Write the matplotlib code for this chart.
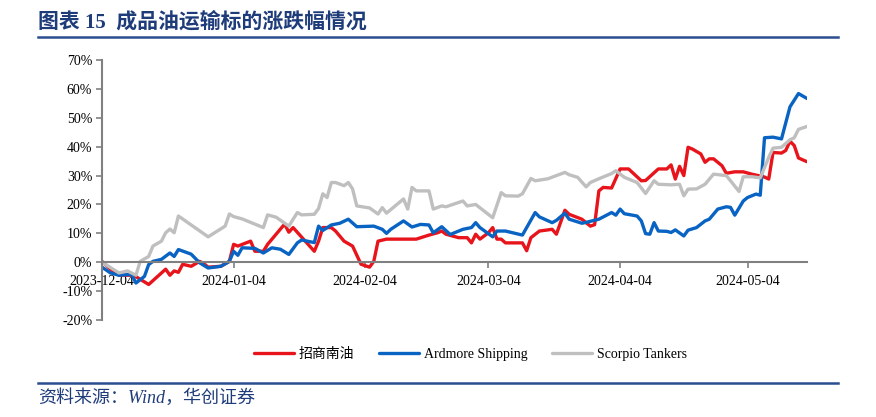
import matplotlib
matplotlib.use("Agg")
import matplotlib.pyplot as plt
import matplotlib.dates as mdates
from matplotlib.lines import Line2D
from matplotlib.ticker import PercentFormatter
import pandas as pd

plt.rcParams['font.family'] = ['Liberation Serif', 'Noto Sans CJK SC']
plt.rcParams['axes.unicode_minus'] = False

# 招商南油
red_dates = ['2023-12-04', '2023-12-06', '2023-12-08', '2023-12-11', '2023-12-12', '2023-12-15',
             '2023-12-19', '2023-12-20', '2023-12-21', '2023-12-22', '2023-12-23', '2023-12-25',
             '2023-12-27', '2023-12-28', '2023-12-29', '2024-01-01', '2024-01-03', '2024-01-04',
             '2024-01-05', '2024-01-08', '2024-01-09', '2024-01-11', '2024-01-12', '2024-01-16',
             '2024-01-17', '2024-01-18', '2024-01-23', '2024-01-24', '2024-01-25', '2024-01-27',
             '2024-01-28', '2024-01-30', '2024-02-01', '2024-02-03', '2024-02-05', '2024-02-06',
             '2024-02-07', '2024-02-09', '2024-02-16', '2024-02-19', '2024-02-21', '2024-02-22',
             '2024-02-23', '2024-02-26', '2024-02-28', '2024-02-29', '2024-03-01', '2024-03-02',
             '2024-03-04', '2024-03-05', '2024-03-06', '2024-03-07', '2024-03-08', '2024-03-12',
             '2024-03-13', '2024-03-14', '2024-03-16', '2024-03-19', '2024-03-20', '2024-03-22',
             '2024-03-23', '2024-03-26', '2024-03-28', '2024-03-29', '2024-03-30', '2024-03-31',
             '2024-04-02', '2024-04-04', '2024-04-06', '2024-04-09', '2024-04-10', '2024-04-13',
             '2024-04-15', '2024-04-16', '2024-04-17', '2024-04-18', '2024-04-19', '2024-04-20',
             '2024-04-21', '2024-04-23', '2024-04-24', '2024-04-25', '2024-04-26', '2024-04-28',
             '2024-04-29', '2024-05-01', '2024-05-03', '2024-05-05', '2024-05-08', '2024-05-09',
             '2024-05-10', '2024-05-12', '2024-05-13', '2024-05-14', '2024-05-15', '2024-05-16',
             '2024-05-18']
red_vals = [0.3, -2.4, -4.5, -4.5, -5.0, -7.7,
            -2.4, -4.5, -3.0, -3.5, -0.7, -1.4,
            0.3, -0.5, -1.7, -1.4, 0.3, 6.2,
            5.6, 7.3, 3.8, 3.8, 6.2, 13.2,
            10.4, 12.0, 3.8, 7.3, 12.0, 12.0,
            10.8, 7.3, 5.6, -0.7, -1.7, 0.3,
            7.3, 8.0, 8.0, 9.4, 10.2, 10.8,
            9.7, 8.5, 8.5, 6.7, 9.7, 8.0,
            10.2, 12.0, 8.0, 8.0, 6.7, 6.7,
            4.0, 8.5, 10.8, 11.4, 9.7, 18.0,
            16.6, 14.9, 12.5, 13.0, 24.7, 25.9,
            25.7, 32.3, 32.3, 28.2, 28.3, 32.3,
            32.3, 33.7, 28.8, 33.2, 30.0, 39.8,
            39.2, 37.5, 34.6, 35.8, 35.8, 33.4,
            30.8, 31.3, 31.3, 30.5, 29.5, 28.8,
            38.0, 37.8, 38.7, 41.9, 40.4, 36.1,
            34.8]

# Ardmore Shipping
blue_dates = ['2023-12-04', '2023-12-06', '2023-12-08', '2023-12-11', '2023-12-12', '2023-12-14',
              '2023-12-15', '2023-12-16', '2023-12-18', '2023-12-20', '2023-12-21', '2023-12-22',
              '2023-12-25', '2023-12-27', '2023-12-29', '2024-01-01', '2024-01-03', '2024-01-04',
              '2024-01-05', '2024-01-06', '2024-01-09', '2024-01-11', '2024-01-13', '2024-01-15',
              '2024-01-17', '2024-01-19', '2024-01-20', '2024-01-23', '2024-01-24', '2024-01-25',
              '2024-01-27', '2024-01-29', '2024-01-31', '2024-02-02', '2024-02-06', '2024-02-08',
              '2024-02-09', '2024-02-10', '2024-02-13', '2024-02-15', '2024-02-17', '2024-02-19',
              '2024-02-20', '2024-02-22', '2024-02-24', '2024-02-27', '2024-02-29', '2024-03-01',
              '2024-03-02', '2024-03-05', '2024-03-06', '2024-03-08', '2024-03-12', '2024-03-15',
              '2024-03-16', '2024-03-19', '2024-03-20', '2024-03-22', '2024-03-23', '2024-03-26',
              '2024-03-27', '2024-03-30', '2024-04-02', '2024-04-03', '2024-04-04', '2024-04-05',
              '2024-04-08', '2024-04-09', '2024-04-10', '2024-04-11', '2024-04-12', '2024-04-13',
              '2024-04-15', '2024-04-16', '2024-04-17', '2024-04-19', '2024-04-20', '2024-04-22',
              '2024-04-24', '2024-04-25', '2024-04-27', '2024-04-29', '2024-04-30', '2024-05-01',
              '2024-05-03', '2024-05-04', '2024-05-06', '2024-05-07', '2024-05-08', '2024-05-10',
              '2024-05-12', '2024-05-14', '2024-05-16', '2024-05-18']
blue_vals = [-1.7, -3.7, -4.5, -4.2, -7.2, -4.9,
             -0.8, 0.3, 1.0, 3.2, 2.0, 4.4,
             2.8, -0.2, -2.0, -1.4, 0.3, 3.8,
             2.4, 5.0, 4.8, 3.2, 5.0, 4.5,
             2.7, 6.7, 7.7, 6.8, 12.5, 11.0,
             12.9, 13.5, 14.9, 12.3, 12.5, 11.4,
             10.0, 11.4, 14.3, 12.2, 13.1, 12.9,
             10.2, 12.3, 9.6, 11.4, 12.0, 13.7,
             12.0, 8.8, 10.8, 10.8, 9.4, 17.2,
             15.7, 13.7, 14.5, 17.0, 14.9, 13.5,
             13.8, 14.9, 17.2, 16.3, 18.4, 16.8,
             16.0, 14.3, 9.9, 9.7, 13.7, 10.8,
             10.7, 10.3, 11.2, 9.1, 11.1, 12.0,
             14.3, 14.9, 18.4, 19.2, 19.0, 16.3,
             21.2, 22.4, 23.6, 23.2, 43.1, 43.3,
             42.7, 53.8, 58.4, 56.7]

# Scorpio Tankers
grey_dates = ['2023-12-04', '2023-12-08', '2023-12-10', '2023-12-12', '2023-12-13', '2023-12-15',
              '2023-12-16', '2023-12-18', '2023-12-19', '2023-12-20', '2023-12-21', '2023-12-22',
              '2023-12-29', '2024-01-02', '2024-01-03', '2024-01-04', '2024-01-06', '2024-01-11',
              '2024-01-12', '2024-01-14', '2024-01-17', '2024-01-19', '2024-01-20', '2024-01-23',
              '2024-01-24', '2024-01-25', '2024-01-26', '2024-01-27', '2024-01-28', '2024-01-30',
              '2024-01-31', '2024-02-01', '2024-02-02', '2024-02-05', '2024-02-07', '2024-02-08',
              '2024-02-09', '2024-02-13', '2024-02-14', '2024-02-15', '2024-02-16', '2024-02-19',
              '2024-02-20', '2024-02-22', '2024-02-23', '2024-02-27', '2024-02-28', '2024-03-01',
              '2024-03-05', '2024-03-07', '2024-03-08', '2024-03-11', '2024-03-12', '2024-03-14',
              '2024-03-15', '2024-03-18', '2024-03-20', '2024-03-22', '2024-03-23', '2024-03-25',
              '2024-03-27', '2024-03-28', '2024-03-30', '2024-04-02', '2024-04-03', '2024-04-05',
              '2024-04-08', '2024-04-10', '2024-04-12', '2024-04-13', '2024-04-16', '2024-04-18',
              '2024-04-19', '2024-04-20', '2024-04-22', '2024-04-24', '2024-04-26', '2024-04-29',
              '2024-04-30', '2024-05-02', '2024-05-03', '2024-05-05', '2024-05-07', '2024-05-09',
              '2024-05-10', '2024-05-12', '2024-05-14', '2024-05-15', '2024-05-16', '2024-05-18']
grey_vals = [0.0, -3.7, -3.0, -4.5, 0.3, 2.0,
             5.6, 7.3, 10.2, 11.5, 10.2, 16.0,
             8.8, 12.5, 16.7, 15.8, 15.0, 12.0,
             16.4, 15.6, 12.5, 17.2, 16.4, 16.6,
             18.6, 23.7, 22.4, 27.6, 27.6, 26.5,
             27.6, 25.4, 19.5, 18.8, 16.7, 18.9,
             17.0, 21.9, 18.4, 25.9, 24.7, 24.7,
             18.4, 19.5, 19.2, 21.2, 19.5, 20.0,
             15.4, 24.1, 23.0, 22.9, 23.7, 29.0,
             28.2, 28.9, 30.0, 31.1, 30.3, 29.4,
             26.1, 27.6, 28.9, 30.7, 31.7, 29.4,
             27.6, 23.8, 28.2, 27.0, 26.8, 27.0,
             23.0, 25.3, 25.4, 27.0, 30.5, 30.0,
             28.2, 24.5, 29.6, 29.6, 29.2, 36.3,
             39.5, 39.8, 42.4, 43.1, 46.0, 47.0]

tick_dates = ['2023-12-04', '2024-01-04', '2024-02-04', '2024-03-04', '2024-04-04', '2024-05-04']
y_ticks = [-20, -10, 0, 10, 20, 30, 40, 50, 60, 70]

series = [
    ("招商南油", red_dates, red_vals, "#E8141C"),
    ("Ardmore Shipping", blue_dates, blue_vals, "#0863C3"),
    ("Scorpio Tankers", grey_dates, grey_vals, "#BFBFBF"),
]

fig = plt.figure(figsize=(8.76, 4.17), dpi=100)
ax = fig.add_axes([0.1164, 0.2326, 0.8048, 0.6234])

for name, d, v, c in series:
    ax.plot(pd.to_datetime(d), v, color=c, linewidth=2.4, label=name,
            solid_joinstyle='round', solid_capstyle='round')

ax.set_xlim(pd.Timestamp('2023-12-04'), pd.Timestamp('2024-05-18'))
ax.set_ylim(-20, 70)
ax.set_yticks(y_ticks)
ax.yaxis.set_major_formatter(PercentFormatter(decimals=0))
ax.set_xticks(pd.to_datetime(tick_dates))
ax.xaxis.set_major_formatter(mdates.DateFormatter('%Y-%m-%d'))

for s in ['top', 'right']:
    ax.spines[s].set_visible(False)
ax.spines['bottom'].set_position(('data', 0))
for s in ['left', 'bottom']:
    ax.spines[s].set_color('#808080')
    ax.spines[s].set_linewidth(1.5)
ax.tick_params(axis='both', colors='#808080', labelcolor='black', labelsize=10,
               length=4, width=1.2, direction='out')
ax.tick_params(axis='x', pad=5)
ax.tick_params(axis='y', pad=3)

fig.legend(loc='center', bbox_to_anchor=(0.537, 0.151), ncol=3, frameon=False,
           fontsize=10, handlelength=2.9, handletextpad=0.3, columnspacing=1.8)

navy = '#1F3C7A'
fig.text(0.043, 0.947, "图表 15  成品油运输标的涨跌幅情况", fontsize=15, fontweight='bold',
         color=navy, va='center', ha='left')
fig.add_artist(Line2D([0.043, 0.957], [0.911, 0.911], color='#2B4F8E', linewidth=1.8))
fig.add_artist(Line2D([0.043, 0.957], [0.0815, 0.0815], color='#2B4F8E', linewidth=1.8))
fig.text(0.043, 0.046, "资料来源：Wind，华创证券", fontsize=13, style='italic',
         color=navy, va='center', ha='left')

fig.savefig("out.png", dpi=100)
